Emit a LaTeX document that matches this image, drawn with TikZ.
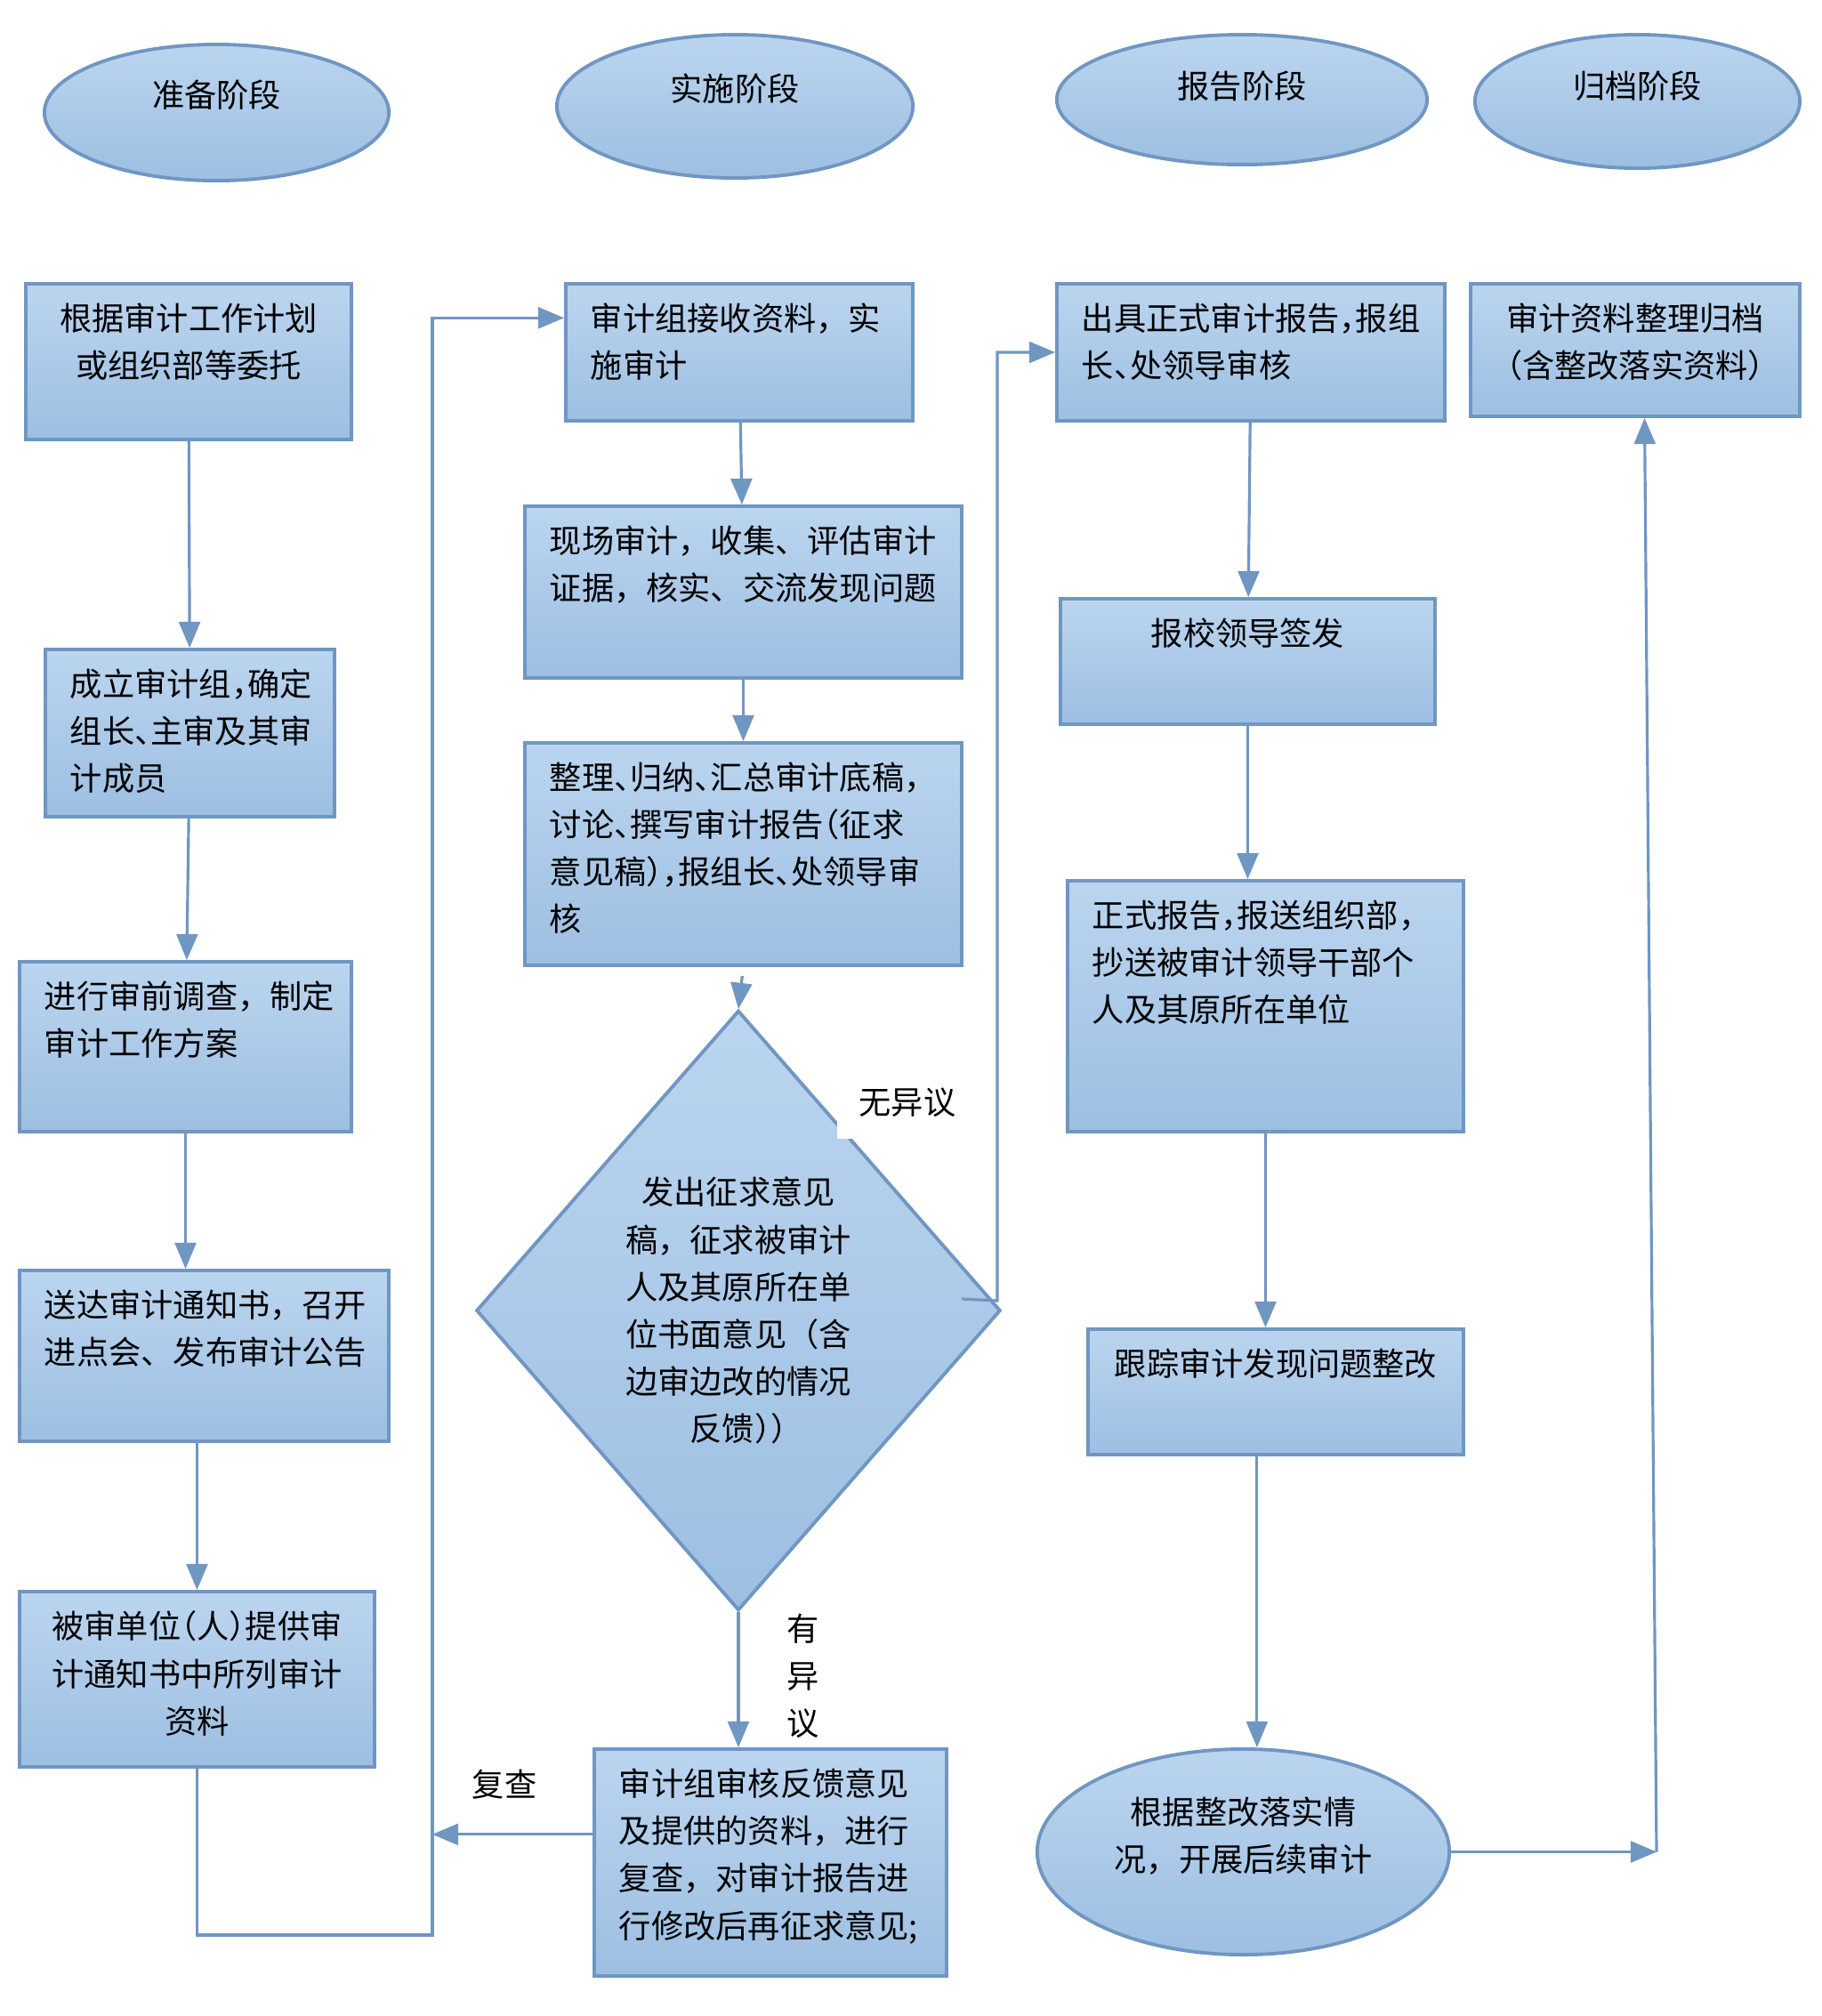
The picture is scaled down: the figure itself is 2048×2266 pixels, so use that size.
\documentclass[tikz,border=0pt]{standalone}
\usepackage{fontspec}
\setmainfont{Noto Sans CJK SC}
\newfontfamily\halfpunct[RawFeature=+halt]{Noto Sans CJK SC}
\usepackage{tikz}
\usetikzlibrary{arrows,shapes.geometric}
\definecolor{fillup}{RGB}{187,213,239}
\definecolor{filldown}{RGB}{157,191,226}
\definecolor{edgeblue}{RGB}{112,150,194}
\newcommand{\toptext}[3]{\parbox[c][#1][t]{#2}{#3}}

\begin{document}
\begin{tikzpicture}[x=0.01cm,y=-0.01cm,->,>=triangle 45,font=\fontsize{10.3pt}{15.1pt}\selectfont]
  \tikzstyle{phase}=[ellipse,draw=edgeblue,line width=1.1pt,top color=fillup,bottom color=filldown,inner sep=0pt]
  \tikzstyle{work}=[rectangle,draw=edgeblue,line width=1.1pt,top color=fillup,bottom color=filldown,inner xsep=0.28cm,inner ysep=0.22cm]
  \tikzstyle{judge}=[diamond,draw=edgeblue,line width=1.1pt,top color=fillup,bottom color=filldown,inner sep=0pt,align=center]
  \tikzstyle{link}=[draw=edgeblue,line width=0.9pt]
  \tikzstyle{note}=[inner sep=1pt]

  \useasboundingbox (0,0) rectangle (2048,2266);

  % stages
  \node[phase,minimum width=3.87cm,minimum height=1.53cm] (prep) at (243.5,126.5) {\toptext{0.73cm}{2cm}{\centering 准备阶段}};
  \node[phase,minimum width=4.00cm,minimum height=1.61cm] (exec) at (826,119.5)   {\toptext{0.73cm}{2cm}{\centering 实施阶段}};
  \node[phase,minimum width=4.16cm,minimum height=1.46cm] (rept) at (1396,112)    {\toptext{0.65cm}{2cm}{\centering 报告阶段}};
  \node[phase,minimum width=3.65cm,minimum height=1.50cm] (arch) at (1840.5,114)  {\toptext{0.69cm}{2cm}{\centering 归档阶段}};

  % preparation
  \node[work] (B1) at (212,406.5)   {\toptext{1.31cm}{3.10cm}{\centering 根据审计工作计划\\或组织部等委托}};
  \node[work] (B2) at (213.5,824)   {\toptext{1.44cm}{2.69cm}{\halfpunct 成立审计组，确定\\组长、主审及其审\\计成员}};
  \node[work] (B3) at (208.5,1176.5){\toptext{1.47cm}{3.17cm}{进行审前调查，制定\\审计工作方案}};
  \node[work] (B4) at (229.5,1524)  {\toptext{1.48cm}{3.59cm}{送达审计通知书，召开\\进点会、发布审计公告}};
  \node[work] (B5) at (221.5,1887.5){\toptext{1.53cm}{3.43cm}{\centering\halfpunct 被审单位（人）提供审\\计通知书中所列审计\\资料}};

  % execution
  \node[work] (C1) at (831,396)     {\toptext{1.10cm}{3.34cm}{审计组接收资料，实\\施审计}};
  \node[work] (C2) at (835.5,665.5) {\toptext{1.49cm}{4.35cm}{现场审计，收集、评估审计\\证据，核实、交流发现问题}};
  \node[work] (C3) at (835.5,960)   {\toptext{2.06cm}{4.35cm}{\halfpunct 整理、归纳、汇总审计底稿，\\讨论、撰写审计报告（征求\\意见稿），报组长、处领导审\\核}};
  \node[judge,minimum width=5.89cm,minimum height=6.74cm] (dia) at (830,1473)
       {发出征求意见\\稿，征求被审计\\人及其原所在单\\位书面意见（含\\边审边改的情况\\{\halfpunct 反馈））}};
  \node[work] (C5) at (866,2093.5)  {\toptext{2.11cm}{3.40cm}{审计组审核反馈意见\\及提供的资料，进行\\复查，对审计报告进\\行修改后再征求意见;}};

  % report
  \node[work] (D1) at (1406,396)    {\toptext{1.10cm}{3.80cm}{\halfpunct 出具正式审计报告，报组\\长、处领导审核}};
  \node[work] (D2) at (1402.5,743.5){\toptext{0.97cm}{3.65cm}{\centering 报校领导签发}};
  \node[work] (D3) at (1422.5,1131) {\toptext{2.38cm}{3.89cm}{{\halfpunct 正式报告，报送组织部，}\\抄送被审计领导干部个\\人及其原所在单位}};
  \node[work] (D4) at (1434,1564.5) {\toptext{0.97cm}{3.66cm}{\centering 跟踪审计发现问题整改}};
  \node[phase,minimum width=4.63cm,minimum height=2.31cm] (D5) at (1397.5,2081.5)
       {\toptext{1.23cm}{3.0cm}{\centering 根据整改落实情\\况，开展后续审计}};

  % archive
  \node[work] (E1) at (1838,393.5)  {\toptext{1.05cm}{3.14cm}{\centering\halfpunct 审计资料整理归档\\（含整改落实资料）}};

  % labels
  \node[note,fill=white,inner xsep=7pt,inner ysep=7pt] (noobj) at (1020,1239) {无异议};
  \node[note] (recheck) at (567,2006) {复查};
  \node[note,align=center] (hasobj) at (903,1884) {有\\异\\议};

  \coordinate (loopbot) at (486,2175);
  \coordinate (yesstart) at (1081,1460);
  \coordinate (yesturn) at (1121,1462);
  \coordinate (archturn) at (1862,2081.5);

  \draw[link] (B1) -- (B2);
  \draw[link] (B2) -- (B3);
  \draw[link] (B3.south) -- (B3.south |- B4.north);
  \draw[link] (B4.south -| B5.north) -- (B5.north);
  \draw[link] (B5.south) |- (loopbot) |- ([yshift=11pt]C1.west);
  \draw[link] ([yshift=9pt]C5.west) -- ([yshift=9pt]C5.west -| loopbot);
  \draw[link] (C1) -- (C2);
  \draw[link] (C2) -- (C3);
  \draw[link,shorten <=0.1cm] (C3.south) -- (dia.north);
  \draw[link] (dia.south) -- (dia.south |- C5.north);
  \draw[link] (yesstart) -- (yesturn) |- (D1.west);
  \draw[link] (D1) -- (D2);
  \draw[link] (D2.south) -- (D2.south |- D3.north);
  \draw[link] (D3.south) -- (D3.south |- D4.north);
  \draw[link] ([xshift=-6pt]D4.south) -- ([xshift=-6pt]D4.south |- D5.north);
  \draw[link] (D5.east) -- (archturn);
  \draw[link] (archturn) -- ([xshift=3pt]E1.south);
\end{tikzpicture}
\end{document}
